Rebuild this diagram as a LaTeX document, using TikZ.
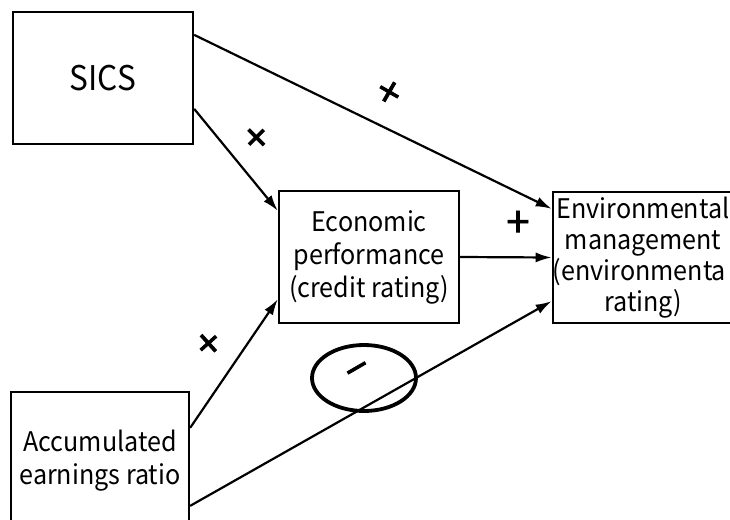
\documentclass[tikz,border=0pt]{standalone}
\usepackage{fontspec}
\setmainfont{Noto Sans CJK JP}[FakeStretch=0.93]
\newfontfamily\signfont{Noto Sans CJK JP}[FakeBold=1.6]
\usetikzlibrary{arrows.meta,calc,shapes.geometric}
\begin{document}
\begin{tikzpicture}[x=1pt,y=-1pt,
  box/.style={draw,line width=2.3pt,inner sep=0pt,align=center},
  link/.style={line width=2.2pt,-{Latex[length=16pt,width=10pt]}},
  sign/.style={font=\signfont\fontsize{42}{42}\selectfont,inner sep=0pt},
  txt/.style={font=\fontsize{27}{33}\selectfont}]
\useasboundingbox (0,0) rectangle (730,519);

% variable boxes
\node[box,minimum width=180pt,minimum height=132pt,
      font=\fontsize{34}{40}\selectfont] (sics) at (103,78) {SICS};
\node[box,txt,minimum width=180pt,minimum height=132pt] (econ) at (369,257)
  {Economic\\performance\\(credit rating)};
\node[box,minimum width=170pt,minimum height=131pt,
      font=\fontsize{27}{31}\selectfont] (env) at (643,257.5)
  {Environmental\\management\\(environmenta\phantom{l}\\rating)};
\node[box,txt,minimum width=178pt,minimum height=138pt] (acc) at (100,461)
  {Accumulated\\earnings ratio};

% paths between the variables
\draw[link] ($(sics.north east)+(0,24)$) -- ($(env.north west)+(0,18)$);
\draw[link] ($(sics.north east)+(0,98)$) -- ($(econ.north west)+(0,21)$);
\draw[link] (econ.east) -- (env.west);
\draw[link] ($(acc.north east)+(0,37)$) -- ($(econ.south west)+(0,-25)$);
\draw[link] ($(acc.north east)+(0,115)$) -- ($(env.south west)+(0,-23)$);

% signs of the effects
\node[sign,rotate=-30] (s1) at (388,94) {+};
\node[sign,rotate=45] (s2) at (258,139) {+};
\node[sign] (s3) at (518,224) {+};
\node[sign,rotate=42] (s4) at (210,345) {+};
\node[sign,rotate=30] (s5) at (360,374) {−};
\node[draw,ellipse,line width=3.8pt,minimum width=104pt,minimum height=66pt] (ring) at (364,378) {};
\end{tikzpicture}
\end{document}
